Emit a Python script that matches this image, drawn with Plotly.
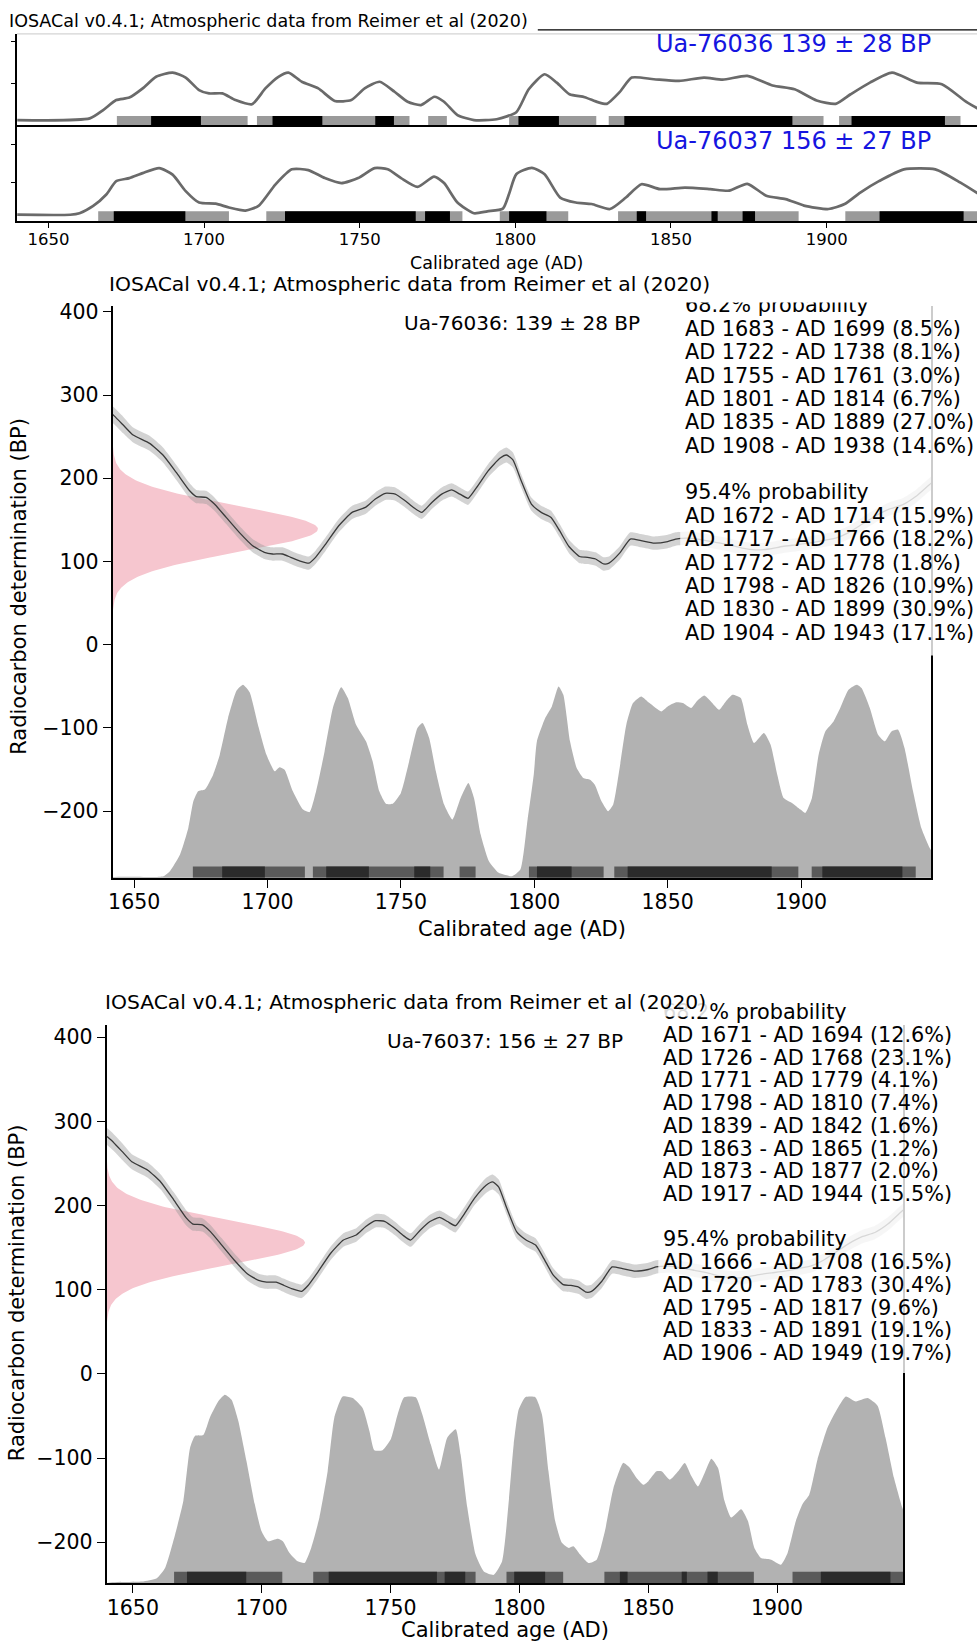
import numpy as np
import plotly.graph_objects as go

W, H = 977, 1646
FONT = "DejaVu Sans"


def xp(px):
    return px / W


def yp(py):
    return 1 - py / H


# ---------------- data ----------------
sample_ids = ["Ua-76036", "Ua-76037"]
sample_bp = [139, 156]
sample_err = [28, 27]

# calibrated ranges (AD) and probabilities
s1_68 = [(1683, 1699), (1722, 1738), (1755, 1761), (1801, 1814), (1835, 1889), (1908, 1938)]
s1_68_pct = ["8.5", "8.1", "3.0", "6.7", "27.0", "14.6"]
s1_95 = [(1672, 1714), (1717, 1766), (1772, 1778), (1798, 1826), (1830, 1899), (1904, 1943)]
s1_95_pct = ["15.9", "18.2", "1.8", "10.9", "30.9", "17.1"]

s2_68 = [(1671, 1694), (1726, 1768), (1771, 1779), (1798, 1810), (1839, 1842), (1863, 1865),
         (1873, 1877), (1917, 1944)]
s2_68_pct = ["12.6", "23.1", "4.1", "7.4", "1.6", "1.2", "2.0", "15.5"]
s2_95 = [(1666, 1708), (1720, 1783), (1795, 1817), (1833, 1891), (1906, 1949)]
s2_95_pct = ["16.5", "30.4", "9.6", "19.1", "19.7"]

# calibration curve (IntCal20 atmospheric), radiocarbon age BP
cal_year = [1640, 1642.5, 1645.9, 1649.6, 1655.8, 1660.8, 1665.8, 1670.8, 1673.3, 1677,
            1680.1, 1684.5, 1689.4, 1694.4, 1698.8, 1701.9, 1705.6, 1708.7, 1711.8, 1715.5,
            1718, 1721.8, 1726.7, 1731.7, 1736.7, 1740.4, 1744.2, 1747.9, 1751.6, 1754.7,
            1757.8, 1761.6, 1765.3, 1769, 1772.1, 1775.2, 1778.4, 1782.7, 1787.1, 1789.6,
            1792, 1795.1, 1798.9, 1802.6, 1806.3, 1809.5, 1813, 1817, 1820, 1823,
            1826, 1828, 1832, 1836, 1840, 1845, 1850, 1853, 1858, 1863,
            1868, 1873, 1878, 1883, 1888, 1893, 1898, 1903, 1908, 1913,
            1918, 1923, 1928, 1933, 1938, 1943, 1948, 1951]
cal_bp = [282, 275, 264, 252, 242, 228, 207, 185, 178, 177,
          169, 153, 135, 119, 111, 109, 109, 105, 101, 98,
          105, 121, 143, 159, 165, 175, 182, 181, 173, 165,
          159, 171, 181, 186, 181, 176, 189, 209, 224, 228,
          222, 197, 169, 159, 153, 137, 118, 106, 105, 103,
          97, 98, 110, 127, 125, 122, 124, 127, 128, 126,
          123, 120, 116, 114, 115, 118, 120, 122, 125, 128,
          135, 145, 155, 163, 168, 178, 192, 200]
cal_err = [10, 10, 10, 9, 9, 9, 9, 9, 8, 8,
           8, 8, 8, 8, 8, 8, 8, 8, 8, 8,
           8, 8, 8, 8, 8, 8, 8, 8, 8, 8,
           8, 8, 8, 8, 8, 8, 8, 8, 9, 9,
           9, 8, 8, 8, 8, 8, 8, 8, 8, 8,
           8, 8, 8, 8, 8, 8, 8, 8, 8, 8,
           8, 8, 8, 8, 8, 8, 8, 8, 8, 8,
           8, 8, 8, 8, 8, 8, 8, 8]

# calibrated probability distribution, sample 1 (relative density)
d1_year = [1640, 1657.2, 1661, 1663.4, 1667.2, 1670.3, 1672.2, 1674.0, 1676.5, 1679.6,
           1682.1, 1685.2, 1688.4, 1690.8, 1693.3, 1696.4, 1699.6, 1702.7, 1704.5, 1706.4,
           1709.5, 1713.3, 1715.8, 1718.2, 1721.4, 1724.5, 1727.6, 1730.1, 1733.2, 1736.9,
           1739.4, 1741.9, 1744.4, 1746.9, 1750, 1753.1, 1756.2, 1758.1, 1760.6, 1763.1,
           1766.2, 1769.3, 1772.4, 1775.3, 1777.4, 1779.9, 1783.0, 1786.7, 1791.7, 1794.8,
           1797.5, 1799.8, 1801, 1804.1, 1806.6, 1809.1, 1810.9, 1813.4, 1815.9, 1818.4,
           1820.9, 1822.7, 1825.2, 1827.7, 1829.6, 1832, 1834.5, 1837, 1840.1, 1843.2,
           1847.6, 1850, 1853.2, 1855.7, 1858.8, 1861.2, 1863.7, 1866.2, 1869.3, 1871.8,
           1874.3, 1877.4, 1879.9, 1882.4, 1886.1, 1888.6, 1891.1, 1893.5, 1896.6, 1899.8,
           1901.6, 1904.1, 1906.6, 1909.1, 1912.2, 1914.7, 1917.8, 1920.9, 1922.7, 1925.8,
           1928.9, 1931.4, 1933.9, 1936.4, 1938.8, 1942, 1945.1, 1948.2, 1950]
d1_dens = [0, 1, 2, 8, 28, 60, 92, 104, 106, 124,
           148, 192, 225, 232, 223, 184, 148, 128, 133, 130,
           104, 82, 79, 104, 152, 204, 229, 216, 184, 164,
           140, 104, 89, 89, 102, 140, 180, 186, 168, 128,
           88, 70, 96, 114, 96, 52, 20, 6, 2, 10,
           70, 124, 164, 192, 206, 230, 220, 164, 132, 120,
           118, 112, 92, 80, 88, 132, 184, 210, 218, 210,
           200, 206, 211, 210, 204, 213, 219, 212, 202, 212,
           220, 216, 184, 162, 174, 160, 124, 96, 90, 82,
           78, 96, 148, 176, 188, 204, 226, 232, 228, 204,
           172, 164, 176, 178, 156, 104, 60, 36, 25]

# calibrated probability distribution, sample 2 (relative density)
d2_year = [1640, 1653.5, 1659.3, 1662.5, 1666.4, 1669.6, 1672.2, 1674.1, 1677.3, 1679.9,
           1683.1, 1685.7, 1688.3, 1690.9, 1694.1, 1697.3, 1699.9, 1702.4, 1706.3, 1708.2,
           1710.8, 1714, 1716.6, 1719.2, 1722.4, 1725.6, 1728.2, 1731.4, 1735.3, 1739.2,
           1741.8, 1743.7, 1746.9, 1750.1, 1752.7, 1755.3, 1759.8, 1762.4, 1765.6, 1768.8,
           1772, 1775.3, 1777.2, 1779.8, 1783, 1786.2, 1790.1, 1793.3, 1795.9, 1797.8,
           1799.7, 1802.3, 1806.2, 1808.8, 1811.3, 1813.9, 1816.5, 1819.1, 1821, 1823.6,
           1826.8, 1830, 1833.2, 1836.5, 1840.3, 1842.9, 1845.5, 1848.1, 1850, 1853.2,
           1855.2, 1858.4, 1861.6, 1864.2, 1866.8, 1869.3, 1871.9, 1874.5, 1877.1, 1879.6,
           1882.2, 1886.1, 1888.7, 1891.2, 1893.8, 1897.7, 1901.5, 1904.1, 1907.3, 1909.9,
           1912.5, 1915.7, 1919.6, 1923.5, 1926.7, 1930.6, 1935.1, 1939, 1942.1, 1945.4,
           1948.6, 1950]
d2_dens = [0, 2, 6, 18, 58, 98, 161, 175, 176, 197,
           216, 224, 218, 193, 145, 94, 62, 50, 53, 50,
           36, 26, 24, 42, 78, 133, 197, 222, 220, 208,
           181, 158, 158, 171, 200, 221, 221, 200, 165, 135,
           173, 183, 153, 90, 34, 14, 10, 26, 98, 165,
           206, 221, 221, 200, 133, 74, 48, 42, 44, 34,
           24, 28, 62, 113, 143, 137, 125, 117, 121, 133,
           133, 123, 133, 143, 127, 115, 131, 148, 137, 98,
           78, 88, 74, 42, 30, 28, 22, 36, 74, 94,
           105, 147, 185, 208, 222, 216, 220, 211, 173, 125,
           90, 78]

# stacked overview (smoothed) curves
t1_year = [1640, 1663.3, 1667.6, 1671.8, 1676, 1680.3, 1684.6, 1689.9, 1694.1, 1698.4,
           1701.6, 1705.9, 1710.1, 1715.4, 1719.7, 1723.9, 1727.1, 1731.4, 1736.7, 1742,
           1747.3, 1751.6, 1756.4, 1761.2, 1765.4, 1769.7, 1774, 1777.1, 1781.4, 1786.7,
           1794, 1800.3, 1804.3, 1809.4, 1813.3, 1817.4, 1822.3, 1826.5, 1829.4, 1833.5,
           1837.4, 1844.5, 1852.6, 1860.6, 1866.6, 1874.5, 1882.6, 1889.7, 1896.8, 1902.9,
           1907.7, 1913.9, 1921, 1929, 1937, 1945, 1950.6]
t1_p = [0.12, 0.16, 0.36, 0.60, 0.66, 0.88, 1.16, 1.26, 1.14, 0.84,
        0.76, 0.76, 0.60, 0.50, 0.88, 1.16, 1.26, 1.04, 0.88, 0.58,
        0.60, 0.88, 1.04, 0.80, 0.56, 0.48, 0.68, 0.56, 0.24, 0.12,
        0.14, 0.31, 0.86, 1.22, 1.02, 0.74, 0.67, 0.55, 0.51, 0.79,
        1.14, 1.10, 1.06, 1.14, 1.09, 1.18, 0.95, 0.86, 0.59, 0.51,
        0.74, 1.02, 1.26, 1.02, 0.98, 0.55, 0.31]
t2_year = [1640, 1657, 1660, 1664.4, 1668.6, 1671.8, 1676, 1680.3, 1685.6, 1689.9,
           1694.1, 1698.4, 1703.7, 1708, 1713.3, 1717.5, 1722.9, 1728.2, 1733.5, 1738.8,
           1744.1, 1749.5, 1754.8, 1759, 1763.3, 1768.6, 1773.9, 1777.1, 1781.4, 1786.7,
           1791, 1796, 1798, 1800.3, 1805.3, 1809.4, 1814.4, 1819.4, 1824.5, 1830.4,
           1835.5, 1840.5, 1846.5, 1854.5, 1862.6, 1868.7, 1874.5, 1880.6, 1886.8, 1892.7,
           1900.6, 1905.8, 1910.8, 1916.8, 1924.8, 1934.9, 1943, 1950.6]
t2_p = [0.15, 0.15, 0.19, 0.38, 0.68, 1.03, 1.11, 1.24, 1.37, 1.20,
        0.77, 0.47, 0.44, 0.34, 0.26, 0.38, 0.94, 1.34, 1.32, 1.11,
        0.98, 1.11, 1.37, 1.34, 1.11, 0.88, 1.15, 0.98, 0.47, 0.19,
        0.24, 0.31, 0.70, 1.21, 1.38, 1.21, 0.60, 0.47, 0.43, 0.30,
        0.60, 0.95, 0.82, 0.86, 0.82, 0.78, 0.96, 0.65, 0.56, 0.39,
        0.30, 0.43, 0.73, 1.03, 1.34, 1.34, 0.99, 0.60]

x_ticks = [1650, 1700, 1750, 1800, 1850, 1900]
y_ticks = [-200, -100, 0, 100, 200, 300, 400]
TITLE = "IOSACal v0.4.1; Atmospheric data from Reimer et al (2020)"

# ---------------- figure ----------------
fig = go.Figure()

TOP_X = [1639.9, 1948.3]
MID_X = [1641.9, 1948.8]
BOT_X = [1639.8, 1949.0]
MID_Y = [-280.2, 407.2]
BOT_Y = [-248.8, 414.2]

# pixel layout of the panels
P1_TOP, P1_BOT, P2_BOT = 28, 119.5, 216
MID_TOP, MID_BOT = 301, 875
BOT_TOP, BOT_BOT = 1023, 1583

DIST_GRAY = "#b2b2b2"
BAR95 = "#5a5a5a"
BAR68 = "#2b2b2b"
PINK = "#f6c6cf"


def add_bars(intervals, color, y0, h, xa, ya):
    xs, ys = [], []
    for a, b in intervals:
        xs += [a, b, b, a, a, None]
        ys += [y0, y0, y0 + h, y0 + h, y0, None]
    fig.add_trace(go.Scatter(x=xs, y=ys, mode="lines", fill="toself", fillcolor=color,
                             line=dict(width=0, color=color), connectgaps=False,
                             xaxis=xa, yaxis=ya, showlegend=False, hoverinfo="skip"))


# --- top stacked panels ---
for yr, pv, xa, ya in [(t1_year, t1_p, "x", "y"), (t2_year, t2_p, "x2", "y2")]:
    fig.add_trace(go.Scatter(x=yr, y=pv, mode="lines",
                             line=dict(color="#6a6a6a", width=2.7, shape="spline", smoothing=0.6),
                             xaxis=xa, yaxis=ya, showlegend=False, hoverinfo="skip"))
add_bars(s1_95, "#9a9a9a", 0.0, 0.22, "x", "y")
add_bars(s1_68, "#000000", 0.0, 0.22, "x", "y")
add_bars(s2_95, "#9a9a9a", -0.02, 0.26, "x2", "y2")
add_bars(s2_68, "#000000", -0.02, 0.26, "x2", "y2")


# --- calibration panels ---
def calib_panel(dyear, ddens, intervals68, intervals95, mu, sd, xr, yr, peak, xa, ya):
    dens = np.array(ddens, dtype=float)
    p = dens / dens.max()
    base = yr[0]
    xs = [dyear[0]] + list(dyear) + [dyear[-1]]
    ys = [base - 5] + list(base + p * peak) + [base - 5]
    fig.add_trace(go.Scatter(x=xs, y=ys, mode="lines", fill="toself", fillcolor=DIST_GRAY,
                             line=dict(width=0, color=DIST_GRAY, shape="spline", smoothing=0.5),
                             xaxis=xa, yaxis=ya, showlegend=False, hoverinfo="skip"))
    add_bars(intervals95, BAR95, base, 13.5, xa, ya)
    add_bars(intervals68, BAR68, base, 13.5, xa, ya)
    # measured radiocarbon age (normal distribution)
    yy = np.linspace(mu - 4 * sd, mu + 4 * sd, 240)
    xx = xr[0] + 77 * np.exp(-0.5 * ((yy - mu) / sd) ** 2)
    fig.add_trace(go.Scatter(x=np.concatenate([[xr[0]], xx, [xr[0]]]),
                             y=np.concatenate([[yy[0]], yy, [yy[-1]]]),
                             mode="lines", fill="toself", fillcolor=PINK,
                             line=dict(width=0, color=PINK), xaxis=xa, yaxis=ya,
                             showlegend=False, hoverinfo="skip"))
    cy = np.array(cal_bp, dtype=float)
    ce = np.array(cal_err, dtype=float)
    fig.add_trace(go.Scatter(x=cal_year, y=cy - ce, mode="lines",
                             line=dict(width=0, shape="spline", smoothing=0.5),
                             xaxis=xa, yaxis=ya, showlegend=False, hoverinfo="skip"))
    fig.add_trace(go.Scatter(x=cal_year, y=cy + ce, mode="lines",
                             line=dict(width=0, shape="spline", smoothing=0.5),
                             fill="tonexty", fillcolor="rgba(150,150,150,0.42)",
                             xaxis=xa, yaxis=ya, showlegend=False, hoverinfo="skip"))
    fig.add_trace(go.Scatter(x=cal_year, y=cy, mode="lines",
                             line=dict(color="#3a3a3a", width=1.3, shape="spline", smoothing=0.5),
                             xaxis=xa, yaxis=ya, showlegend=False, hoverinfo="skip"))


calib_panel(d1_year, d1_dens, s1_68, s1_95, sample_bp[0], sample_err[0], MID_X, MID_Y, 232, "x3", "y3")
calib_panel(d2_year, d2_dens, s2_68, s2_95, sample_bp[1], sample_err[1], BOT_X, BOT_Y, 224, "x4", "y4")

# ---------------- axes ----------------
base_ax = dict(showgrid=False, zeroline=False, showline=True, linecolor="black",
               tickcolor="black", fixedrange=True)
ytick_text = [str(v).replace("-", "\u2212") for v in y_ticks]

layout = dict(
    width=W, height=H, margin=dict(l=0, r=0, t=0, b=0),
    paper_bgcolor="white", plot_bgcolor="rgba(0,0,0,0)",
    showlegend=False,
    font=dict(family=FONT, color="black"),
    xaxis=dict(base_ax, domain=[xp(13), 1], range=TOP_X, anchor="y", showticklabels=False,
               ticks="", linewidth=1.8),
    yaxis=dict(base_ax, domain=[yp(P1_BOT), yp(P1_TOP)], range=[0, 2.19], anchor="x",
               tickvals=[1, 2], showticklabels=False, ticks="outside", ticklen=4, linewidth=1.8),
    xaxis2=dict(base_ax, domain=[xp(13), 1], range=TOP_X, anchor="y2", tickvals=x_ticks,
                ticks="outside", ticklen=5, tickwidth=1.4, linewidth=1.8, ticklabelstandoff=-3,
                tickfont=dict(size=16.5, family=FONT)),
    yaxis2=dict(base_ax, domain=[yp(P2_BOT), yp(P1_BOT)], range=[-0.02, 2.50], anchor="x2",
                tickvals=[1, 2], showticklabels=False, ticks="outside", ticklen=4, linewidth=1.8),
    xaxis3=dict(base_ax, domain=[xp(109), xp(931)], range=MID_X, anchor="y3", tickvals=x_ticks,
                ticks="outside", ticklen=8, tickwidth=1.4, linewidth=1.6, ticklabelstandoff=-3,
                tickfont=dict(size=20.5, family=FONT)),
    yaxis3=dict(base_ax, domain=[yp(MID_BOT), yp(MID_TOP)], range=MID_Y, anchor="x3", mirror=True,
                tickvals=y_ticks, ticktext=ytick_text, ticks="outside", ticklen=8, tickwidth=1.4,
                linewidth=1.6, tickfont=dict(size=20.5, family=FONT)),
    xaxis4=dict(base_ax, domain=[xp(103), xp(903)], range=BOT_X, anchor="y4", tickvals=x_ticks,
                ticks="outside", ticklen=8, tickwidth=1.4, linewidth=1.6, ticklabelstandoff=-3,
                tickfont=dict(size=20.5, family=FONT)),
    yaxis4=dict(base_ax, domain=[yp(BOT_BOT), yp(BOT_TOP)], range=BOT_Y, anchor="x4", mirror=True,
                tickvals=y_ticks, ticktext=ytick_text, ticks="outside", ticklen=8, tickwidth=1.4,
                linewidth=1.6, tickfont=dict(size=20.5, family=FONT)),
)
fig.update_layout(**layout)

# ---------------- decorations ----------------
shapes = [
    dict(type="line", xref="paper", yref="paper", x0=xp(13), x1=1, y0=yp(P1_TOP), y1=yp(P1_TOP),
         line=dict(color="#d4d4d4", width=1.2)),
    dict(type="line", xref="paper", yref="paper", x0=xp(536), x1=1, y0=yp(P1_TOP - 4),
         y1=yp(P1_TOP - 4), line=dict(color="black", width=1.3)),
    # semi-transparent legend boxes
    dict(type="rect", xref="paper", yref="paper", x0=xp(679), x1=xp(985), y0=yp(652), y1=yp(293),
         fillcolor="rgba(255,255,255,0.8)", line=dict(width=0), layer="above"),
    dict(type="rect", xref="paper", yref="paper", x0=xp(657), x1=xp(985), y0=yp(1372), y1=yp(1013),
         fillcolor="rgba(255,255,255,0.8)", line=dict(width=0), layer="above"),
]
fig.update_layout(shapes=shapes)

DY = -4  # glyph centring correction


def ann(text, x, y, size, xanchor="left", yanchor="middle", color="black", **kw):
    if xanchor == "left":
        x -= 3
    fig.add_annotation(text=text, x=xp(x), y=yp(y + DY), xref="paper", yref="paper",
                       showarrow=False, xanchor=xanchor, yanchor=yanchor,
                       font=dict(family=FONT, size=size, color=color), **kw)


def legend_lines(i68, p68, i95, p95):
    lines = ["68.2% probability"]
    lines += [f"AD {a} - AD {b} ({p}%)" for (a, b), p in zip(i68, p68)]
    lines += [""]
    lines += ["95.4% probability"]
    lines += [f"AD {a} - AD {b} ({p}%)" for (a, b), p in zip(i95, p95)]
    return lines


# top panels
ann(TITLE, 6, 19, 17.5)
ann(f"{sample_ids[0]} {sample_bp[0]} \u00b1 {sample_err[0]} BP", 933, 42, 24, xanchor="right",
    color="#1515e0")
ann(f"{sample_ids[1]} {sample_bp[1]} \u00b1 {sample_err[1]} BP", 933, 139, 24, xanchor="right",
    color="#1515e0")
ann("Calibrated age (AD)", 495, 262, 17.5, xanchor="center")

# middle panel
for i, t in enumerate(legend_lines(s1_68, s1_68_pct, s1_95, s1_95_pct)):
    if t:
        ann(t, 685, 304.5 + i * 23.46, 20.8)
ann(" ", 685, 290, 4, yanchor="top", width=300, height=10, bgcolor="white", borderpad=0)
ann(TITLE, 106, 283, 20.3)
ann(f"{sample_ids[0]}: {sample_bp[0]} \u00b1 {sample_err[0]} BP", 520, 322, 20, xanchor="center")
ann("Calibrated age (AD)", 520, 930, 21, xanchor="center")
ann("Radiocarbon determination (BP)", 15, 586, 21, xanchor="center", textangle=-90)

# bottom panel
for i, t in enumerate(legend_lines(s2_68, s2_68_pct, s2_95, s2_95_pct)):
    if t:
        ann(t, 663, 1014 + i * 22.8, 20.8)
ann(TITLE, 101, 1004, 20.3, bgcolor="rgba(255,255,255,0.85)", borderpad=2)
ann(f"{sample_ids[1]}: {sample_bp[1]} \u00b1 {sample_err[1]} BP", 503, 1043, 20, xanchor="center")
ann("Calibrated age (AD)", 503, 1634, 21, xanchor="center")
ann("Radiocarbon determination (BP)", 13, 1295, 21, xanchor="center", textangle=-90)

fig.write_html("out.html", config={"displayModeBar": False},
               post_script="document.body.style.margin='0';")
